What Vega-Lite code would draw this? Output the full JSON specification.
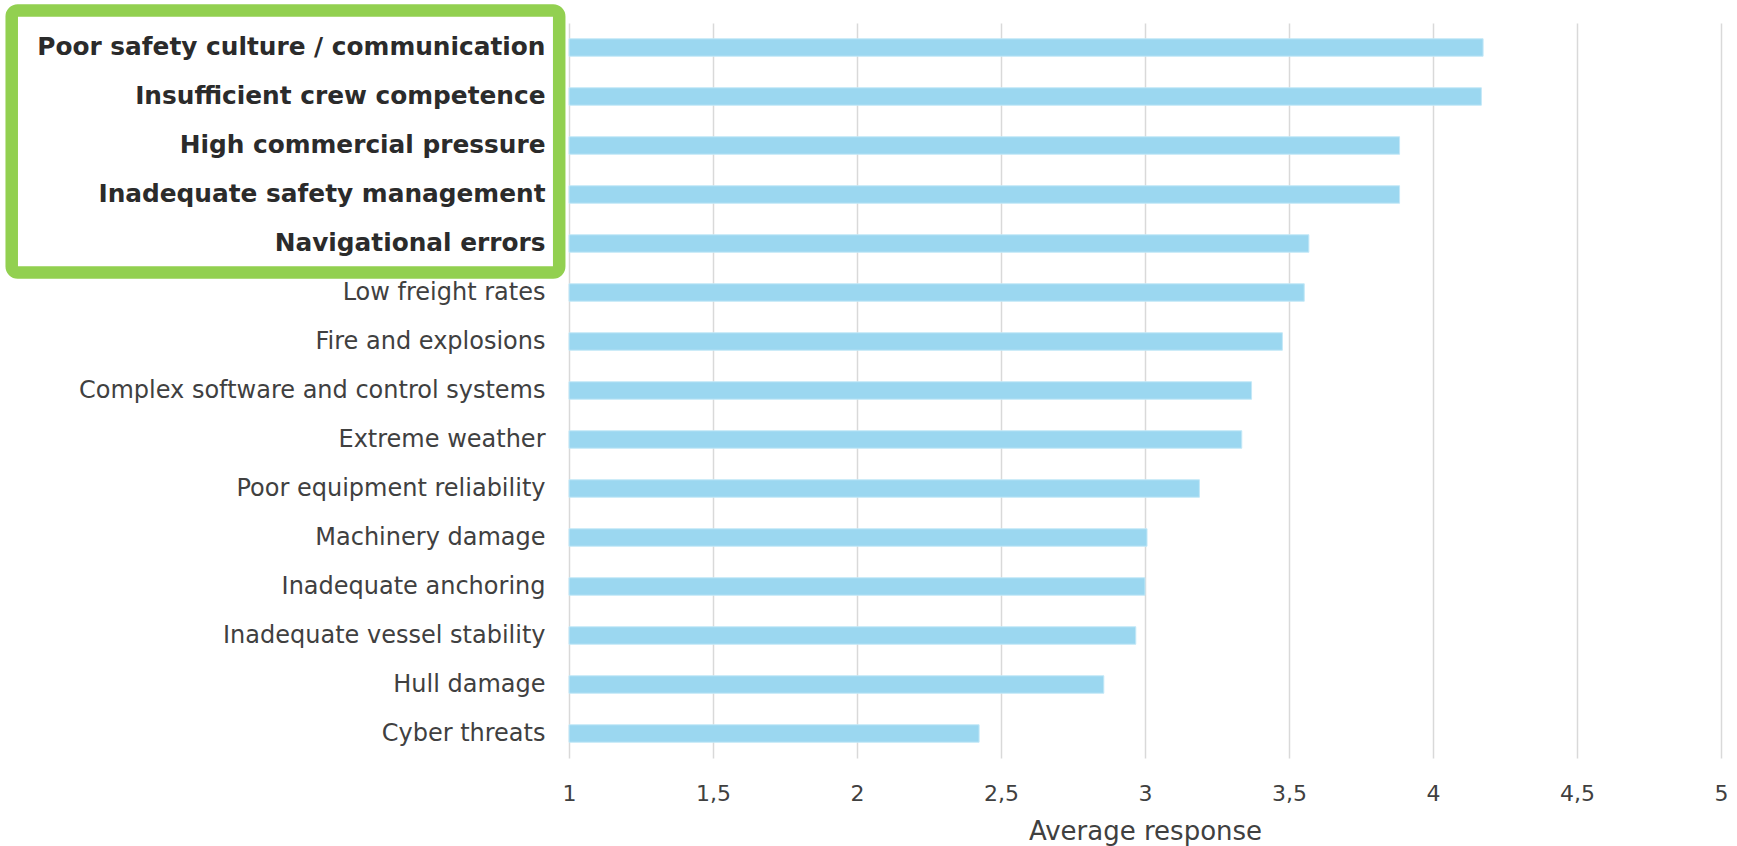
{
  "$schema": "https://vega.github.io/schema/vega-lite/v6.json",
  "width": 1152,
  "height": 735,
  "autosize": "none",
  "padding": {"left": 569, "top": 23, "right": 16, "bottom": 88},
  "background": "white",
  "config": {
    "view": {"stroke": null},
    "font": "DejaVu Sans"
  },
  "layer": [
    {
      "data": {
        "values": [
          {"cause": "Poor safety culture / communication", "value": 4.174, "highlight": true},
          {"cause": "Insufficient crew competence", "value": 4.168, "highlight": true},
          {"cause": "High commercial pressure", "value": 3.884, "highlight": true},
          {"cause": "Inadequate safety management", "value": 3.884, "highlight": true},
          {"cause": "Navigational errors", "value": 3.569, "highlight": true},
          {"cause": "Low freight rates", "value": 3.553, "highlight": false},
          {"cause": "Fire and explosions", "value": 3.477, "highlight": false},
          {"cause": "Complex software and control systems", "value": 3.37, "highlight": false},
          {"cause": "Extreme weather", "value": 3.336, "highlight": false},
          {"cause": "Poor equipment reliability", "value": 3.189, "highlight": false},
          {"cause": "Machinery damage", "value": 3.007, "highlight": false},
          {"cause": "Inadequate anchoring", "value": 3.0, "highlight": false},
          {"cause": "Inadequate vessel stability", "value": 2.968, "highlight": false},
          {"cause": "Hull damage", "value": 2.857, "highlight": false},
          {"cause": "Cyber threats", "value": 2.424, "highlight": false}
        ]
      },
      "mark": {"type": "bar", "color": "#9BD7F0", "stroke": "#C4E8F7", "strokeWidth": 1},
      "encoding": {
        "y": {
          "field": "cause",
          "type": "nominal",
          "sort": null,
          "scale": {"paddingInner": 0.643, "paddingOuter": 0.3215},
          "axis": {
            "title": null,
            "domain": false,
            "ticks": false,
            "grid": false,
            "labelPadding": 24,
            "labelFontSize": {"condition": {"test": "indexof(['Poor safety culture / communication','Insufficient crew competence','High commercial pressure','Inadequate safety management','Navigational errors'], datum.label) >= 0", "value": 24.8}, "value": 24},
            "labelLimit": 700,
            "labelColor": {"condition": {"test": "indexof(['Poor safety culture / communication','Insufficient crew competence','High commercial pressure','Inadequate safety management','Navigational errors'], datum.label) >= 0", "value": "#2B2B2B"}, "value": "#404040"},
            "labelFontWeight": {"condition": {"test": "indexof(['Poor safety culture / communication','Insufficient crew competence','High commercial pressure','Inadequate safety management','Navigational errors'], datum.label) >= 0", "value": "bold"}, "value": "normal"}
          }
        },
        "x": {
          "field": "value",
          "type": "quantitative",
          "scale": {"domain": [1, 5], "nice": false, "zero": false},
          "axis": {
            "title": "Average response",
            "values": [1, 1.5, 2, 2.5, 3, 3.5, 4, 4.5, 5],
            "labelExpr": "replace(toString(datum.value), '.', ',')",
            "labelFlush": false,
            "labelOverlap": false,
            "domain": false,
            "ticks": false,
            "grid": true,
            "gridColor": "#D9D9D9",
            "gridWidth": 1.5,
            "labelFontSize": 22,
            "labelColor": "#404040",
            "labelPadding": 25,
            "titleFontSize": 26,
            "titleFontWeight": "normal",
            "titleColor": "#404040",
            "titlePadding": 14
          }
        },
        "x2": {"datum": 1}
      }
    },
    {
      "data": {"values": [{}]},
      "mark": {"type": "rect", "fill": null, "stroke": "#92D050", "strokeWidth": 12.5, "cornerRadius": 6, "clip": false},
      "encoding": {
        "x": {"datum": -0.935, "type": "quantitative"},
        "x2": {"datum": 0.966},
        "y": {"datum": -0.255, "type": "quantitative", "scale": {"domain": [0, 15], "reverse": true, "nice": false, "zero": false}, "axis": null},
        "y2": {"datum": 5.092}
      }
    }
  ],
  "resolve": {"scale": {"y": "independent"}}
}
